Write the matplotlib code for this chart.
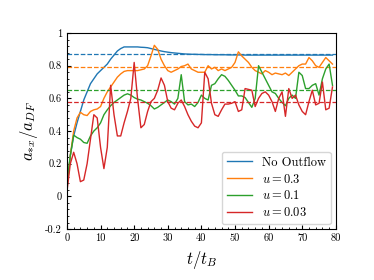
import numpy as np
import matplotlib
matplotlib.use('Agg')
import matplotlib.pyplot as plt
from matplotlib.ticker import MultipleLocator, FixedLocator, FixedFormatter

plt.rcParams['font.family'] = 'serif'
plt.rcParams['font.serif'] = ['cmr10', 'DejaVu Serif']
plt.rcParams['mathtext.fontset'] = 'cm'
plt.rcParams['axes.unicode_minus'] = False

# time in units of t_B
t = np.arange(0, 80)

no_outflow = [0.05, 0.25, 0.37, 0.45, 0.52, 0.59, 0.64, 0.69, 0.72, 0.75,
              0.77, 0.79, 0.81, 0.84, 0.865, 0.89, 0.905, 0.915, 0.915, 0.915,
              0.915, 0.915, 0.913, 0.912, 0.91, 0.905, 0.9, 0.895, 0.89, 0.886,
              0.883, 0.88, 0.878, 0.876, 0.874, 0.872, 0.871, 0.870, 0.870, 0.869,
              0.869, 0.868, 0.868, 0.868, 0.867, 0.867, 0.867, 0.867, 0.866, 0.866,
              0.866, 0.866, 0.866, 0.865, 0.865, 0.865, 0.865, 0.865, 0.865, 0.865,
              0.865, 0.865, 0.865, 0.865, 0.865, 0.865, 0.865, 0.865, 0.865, 0.865,
              0.865, 0.865, 0.865, 0.865, 0.865, 0.865, 0.865, 0.865, 0.865, 0.865]

u03 = [0.05, 0.25, 0.40, 0.48, 0.515, 0.50, 0.495, 0.52, 0.53, 0.535,
       0.55, 0.60, 0.64, 0.67, 0.70, 0.73, 0.75, 0.765, 0.77, 0.77,
       0.77, 0.77, 0.775, 0.78, 0.80, 0.86, 0.925, 0.90, 0.84, 0.80,
       0.77, 0.76, 0.77, 0.78, 0.795, 0.80, 0.81, 0.78, 0.77, 0.76,
       0.76, 0.76, 0.80, 0.78, 0.79, 0.77, 0.78, 0.77, 0.78, 0.79,
       0.82, 0.885, 0.86, 0.84, 0.82, 0.79, 0.77, 0.76, 0.75, 0.77,
       0.76, 0.745, 0.755, 0.75, 0.745, 0.755, 0.74, 0.76, 0.78, 0.80,
       0.81, 0.81, 0.85, 0.83, 0.80, 0.79, 0.82, 0.85, 0.83, 0.81]

u01 = [0.08, 0.25, 0.375, 0.36, 0.35, 0.33, 0.325, 0.37, 0.40, 0.42,
       0.45, 0.50, 0.53, 0.555, 0.575, 0.59, 0.605, 0.62, 0.628, 0.62,
       0.605, 0.595, 0.59, 0.58, 0.57, 0.555, 0.535, 0.545, 0.56, 0.575,
       0.59, 0.58, 0.565, 0.60, 0.745, 0.58, 0.56, 0.565, 0.55, 0.575,
       0.62, 0.60, 0.59, 0.68, 0.69, 0.72, 0.745, 0.735, 0.71, 0.68,
       0.65, 0.615, 0.615, 0.605, 0.575, 0.545, 0.60, 0.80, 0.76, 0.72,
       0.68, 0.64, 0.63, 0.60, 0.575, 0.555, 0.60, 0.62, 0.60, 0.76,
       0.74, 0.66, 0.66, 0.68, 0.69, 0.62, 0.72, 0.78, 0.81, 0.68]

u003 = [0.03, 0.20, 0.27, 0.20, 0.09, 0.10, 0.20, 0.35, 0.50, 0.48,
        0.30, 0.17, 0.30, 0.68, 0.50, 0.37, 0.37, 0.45, 0.52, 0.60,
        0.82, 0.60, 0.42, 0.44, 0.52, 0.58, 0.60, 0.65, 0.725, 0.68,
        0.58, 0.54, 0.53, 0.57, 0.59, 0.55, 0.50, 0.46, 0.43, 0.42,
        0.45, 0.76, 0.72, 0.57, 0.50, 0.49, 0.53, 0.565, 0.565, 0.57,
        0.58, 0.52, 0.53, 0.66, 0.655, 0.65, 0.55, 0.60, 0.63, 0.64,
        0.62, 0.58, 0.52, 0.60, 0.64, 0.49, 0.66, 0.60, 0.62, 0.56,
        0.52, 0.50, 0.58, 0.65, 0.56, 0.57, 0.70, 0.53, 0.54, 0.67]

labels = ['No Outflow', '$u = 0.3$', '$u = 0.1$', '$u = 0.03$']
means = [0.87, 0.79, 0.65, 0.575]
colors = ['tab:blue', 'tab:orange', 'tab:green', 'tab:red']

fig = plt.figure(figsize=(3.74, 2.80), dpi=100)
ax = fig.add_axes([0.179, 0.182, 0.719, 0.700])

for y, lab, c, m in zip([no_outflow, u03, u01, u003], labels, colors, means):
    ax.plot(t, y, color=c, lw=1.0, label=lab)
    ax.axhline(m, color=c, ls='--', lw=0.9)

ax.set_xlim(0, 80)
ax.set_ylim(-0.2, 1.0)
yt = [-0.2, 0, 0.2, 0.4, 0.6, 0.8, 1.0]
ax.yaxis.set_major_locator(FixedLocator(yt))
ax.yaxis.set_major_formatter(FixedFormatter(['-0.2', '0', '0.2', '0.4', '0.6', '0.8', '1']))
ax.xaxis.set_major_locator(MultipleLocator(10))
ax.xaxis.set_minor_locator(MultipleLocator(2))
ax.yaxis.set_minor_locator(MultipleLocator(0.04))
ax.tick_params(which='both', direction='in', labelsize=7.5)
ax.tick_params(which='major', length=3)
ax.tick_params(which='minor', length=1.5)

ax.set_xlabel('$t/t_B$', fontsize=12)
ax.set_ylabel('$a_{*x}/a_{DF}$', fontsize=12)
ax.legend(loc='lower right', fontsize=9, handlelength=2.0, labelspacing=0.3,
          borderaxespad=0.4)

fig.savefig('out.png', dpi=100)
